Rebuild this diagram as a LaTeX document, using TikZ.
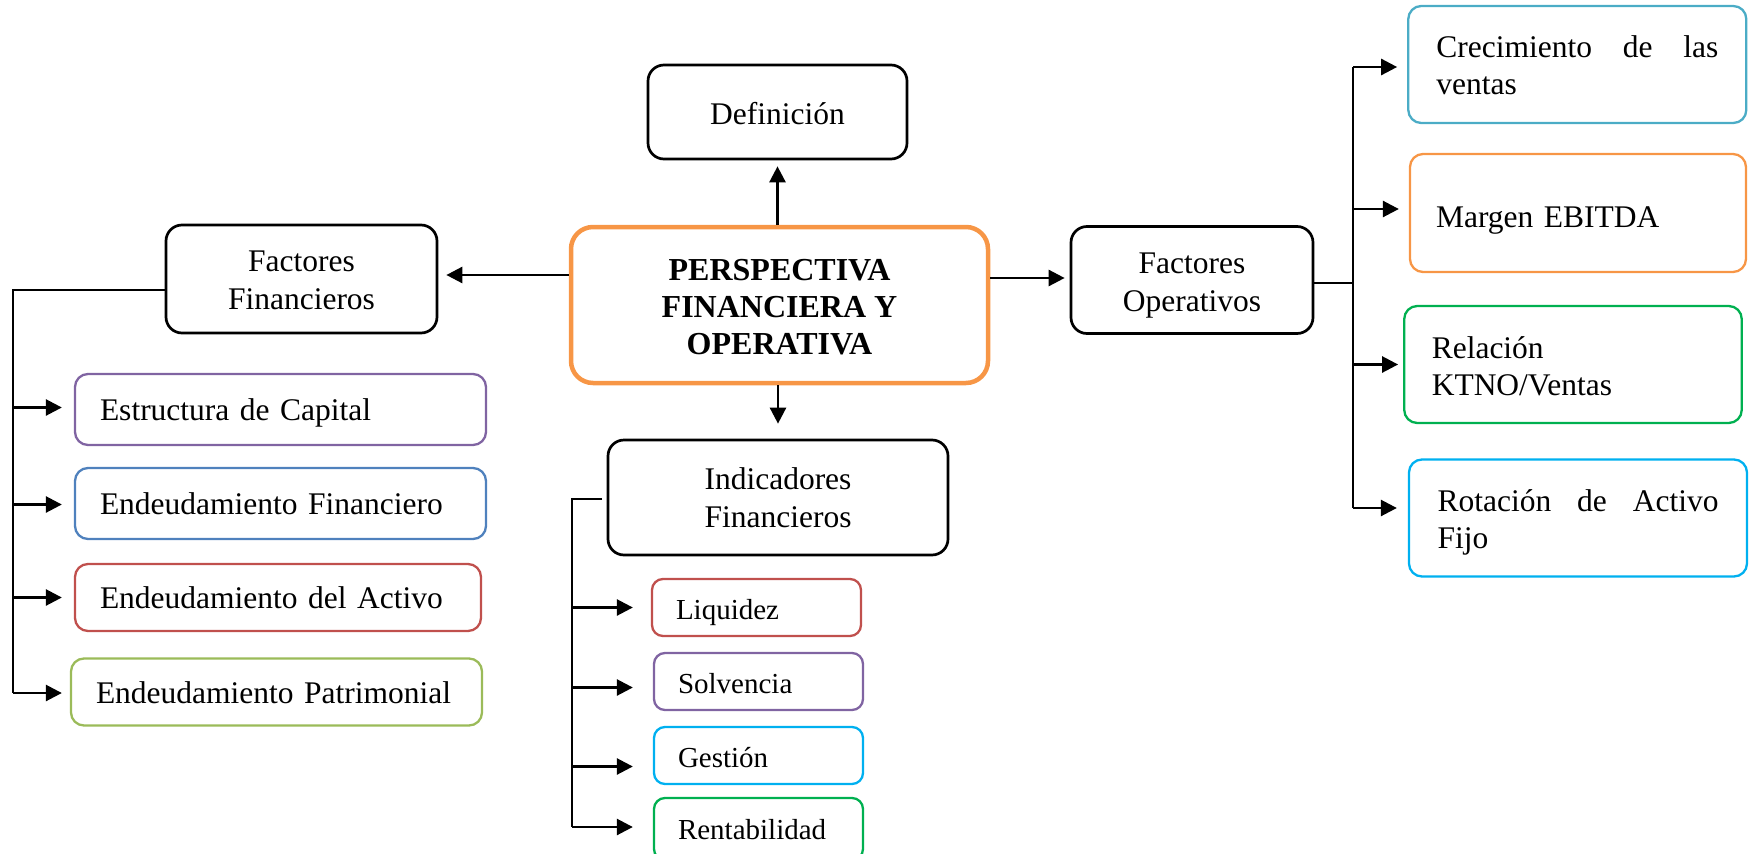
\documentclass[tikz,border=0pt]{standalone}
\usepackage{fontspec}
\setmainfont{Liberation Serif}
\usetikzlibrary{arrows.meta,calc}
\definecolor{cpurple}{HTML}{8064A2}
\definecolor{cblue}{HTML}{4F81BD}
\definecolor{cred}{HTML}{C0504D}
\definecolor{clgreen}{HTML}{9BBB59}
\definecolor{ccyan}{HTML}{00B0F0}
\definecolor{cgreen}{HTML}{00B050}
\definecolor{cteal}{HTML}{4BACC6}
\definecolor{corange}{HTML}{F79646}
\newcommand\mytop[1]{\rule{0pt}{#1pt}}
\newcommand\mybot{\rule[-8pt]{0pt}{8pt}}
\tikzset{
  blackbox/.style={draw=black, line width=2.7pt, rounded corners=16pt, align=center,
    font=\fontsize{31.5}{38}\selectfont, inner sep=0pt},
  colbox/.style={draw=#1, line width=2.3pt, rounded corners=13pt, align=left,
    font=\fontsize{31.5}{37.5}\selectfont, inner ysep=0pt},
  onel/.style={text height=26pt, text depth=4pt},
  smallbox/.style={draw=#1, line width=2.3pt, rounded corners=11pt, align=left,
    font=\fontsize{29}{34}\selectfont, inner ysep=0pt, inner xsep=24pt, text width=161pt,
    minimum height=57pt, text height=27pt, text depth=4pt},
  conn/.style={line width=2.6pt},
  arr/.style={line width=2.6pt, -{Triangle[length=16pt,width=16pt]}}
}
\begin{document}
\begin{tikzpicture}[x=1pt,y=-1pt]
\useasboundingbox (0,0) rectangle (1757,854);
\clip (0,0) rectangle (1757,854);
% central and main nodes
\node[draw=corange, line width=4.5pt, rounded corners=22pt, align=center, inner sep=0pt,
  minimum width=417pt, minimum height=156pt, font=\fontsize{32}{37.2}\selectfont\bfseries]
  (cen) at (779.5,305) {\mytop{32.4}PERSPECTIVA\\FINANCIERA Y\\OPERATIVA\mybot};
\node[blackbox, minimum width=259pt, minimum height=94pt, text height=27pt, text depth=3pt] (def) at (777.5,112) {Definición};
\node[blackbox, minimum width=271pt, minimum height=108pt] (ff) at (301.5,279) {\mytop{31.4}Factores\\Financieros\mybot};
\node[blackbox, minimum width=242pt, minimum height=107pt] (fo) at (1192,280) {\mytop{32.6}Factores\\Operativos\mybot};
\node[blackbox, minimum width=340pt, minimum height=115pt] (ind) at (778,497.5) {\mytop{29}Indicadores\\Financieros\mybot};
% left column
\node[colbox=cpurple, onel, inner xsep=25pt, text width=361pt, minimum height=71pt] (es) at (280.5,409.5) {Estructura de Capital};
\node[colbox=cblue, onel, inner xsep=25pt, text width=361pt, minimum height=71pt] (ef) at (280.5,503.5) {Endeudamiento Financiero};
\node[colbox=cred, onel, inner xsep=25pt, text width=356pt, minimum height=67pt] (ea) at (278,597.5) {Endeudamiento del Activo};
\node[colbox=clgreen, onel, inner xsep=25pt, text width=361pt, minimum height=67pt] (ep) at (276.5,692) {Endeudamiento Patrimonial};
% indicator column
\node[smallbox=cred] (li) at (756.5,607.5) {Liquidez};
\node[smallbox=cpurple] (so) at (758.5,681.5) {Solvencia};
\node[smallbox=ccyan] (ge) at (758.5,755.5) {Gestión};
\node[smallbox=cgreen, minimum height=62pt, text height=25pt] (re) at (758.5,829) {Rentabilidad};
% right column
\node[colbox=cteal, inner xsep=28pt, text width=282pt, minimum height=117pt] (cr) at (1577.3,64.5) {\mytop{31.1}Crecimiento\hfill de\hfill las\\ventas\mybot};
\node[colbox=corange, inner xsep=26pt, text width=284pt, minimum height=118pt, text height=31pt, text depth=3pt] (ma) at (1578,213) {Margen EBITDA};
\node[colbox=cgreen, inner xsep=27.5pt, text width=282.5pt, minimum height=117pt] (rl) at (1573,364.5) {\mytop{32.7}Relación\\KTNO/Ventas\mybot};
\node[colbox=ccyan, inner xsep=28.5pt, text width=281pt, minimum height=117pt] (ro) at (1578,518) {\mytop{31.5}Rotación\hfill de\hfill Activo\\Fijo\mybot};
% central connectors
\draw[arr, shorten >=6pt] (cen.north -| def.south) -- (def.south);
\draw[arr, shorten >=15pt] (cen.south -| ind.north) -- (ind.north);
\coordinate (lh) at (500,275);
\coordinate (rh) at (1000,278);
\draw[arr, shorten >=8pt] (cen.west |- lh) -- (ff.east |- lh);
\draw[arr, shorten >=5pt] (cen.east |- rh) -- (fo.west |- rh);
% left trunk
\coordinate (lt) at (13,290);
\coordinate (lb) at (13,693);
\draw[conn] (ff.west |- lt) -- (lt) -- (lb);
\draw[arr, shorten >=12pt] ($(lt |- es.west)+(0,-2)$) -- ($(es.west)+(0,-2)$);
\draw[arr, shorten >=12pt] ($(lt |- ef.west)+(0,1)$) -- ($(ef.west)+(0,1)$);
\draw[arr, shorten >=12pt] (lt |- ea.west) -- (ea.west);
\draw[arr, shorten >=8pt] (lb) -- (lb -| ep.west);
% indicator trunk
\coordinate (it) at (572,499);
\coordinate (ib) at (572,827);
\draw[conn] (602,499) -- (it) -- (ib);
\draw[arr, shorten >=18pt] (it |- li.west) -- (li.west);
\draw[arr, shorten >=20pt] ($(it |- so.west)+(0,6)$) -- ($(so.west)+(0,6)$);
\draw[arr, shorten >=20pt] ($(it |- ge.west)+(0,11)$) -- ($(ge.west)+(0,11)$);
\draw[arr, shorten >=20pt] (ib) -- (ib -| re.west);
% right trunk
\coordinate (rt) at (1353,67);
\coordinate (rb) at (1353,508);
\coordinate (rm) at (1353,283);
\draw[conn] (fo.east |- rm) -- (rm);
\draw[conn] (rt) -- (rb);
\draw[arr, shorten >=10pt] (rt) -- (rt -| cr.west);
\draw[arr, shorten >=10pt] ($(rt |- ma.west)+(0,-4)$) -- ($(ma.west)+(0,-4)$);
\draw[arr, shorten >=5pt] (rt |- rl.west) -- (rl.west);
\draw[arr, shorten >=11pt] (rb) -- (rb -| ro.west);
\end{tikzpicture}
\end{document}
